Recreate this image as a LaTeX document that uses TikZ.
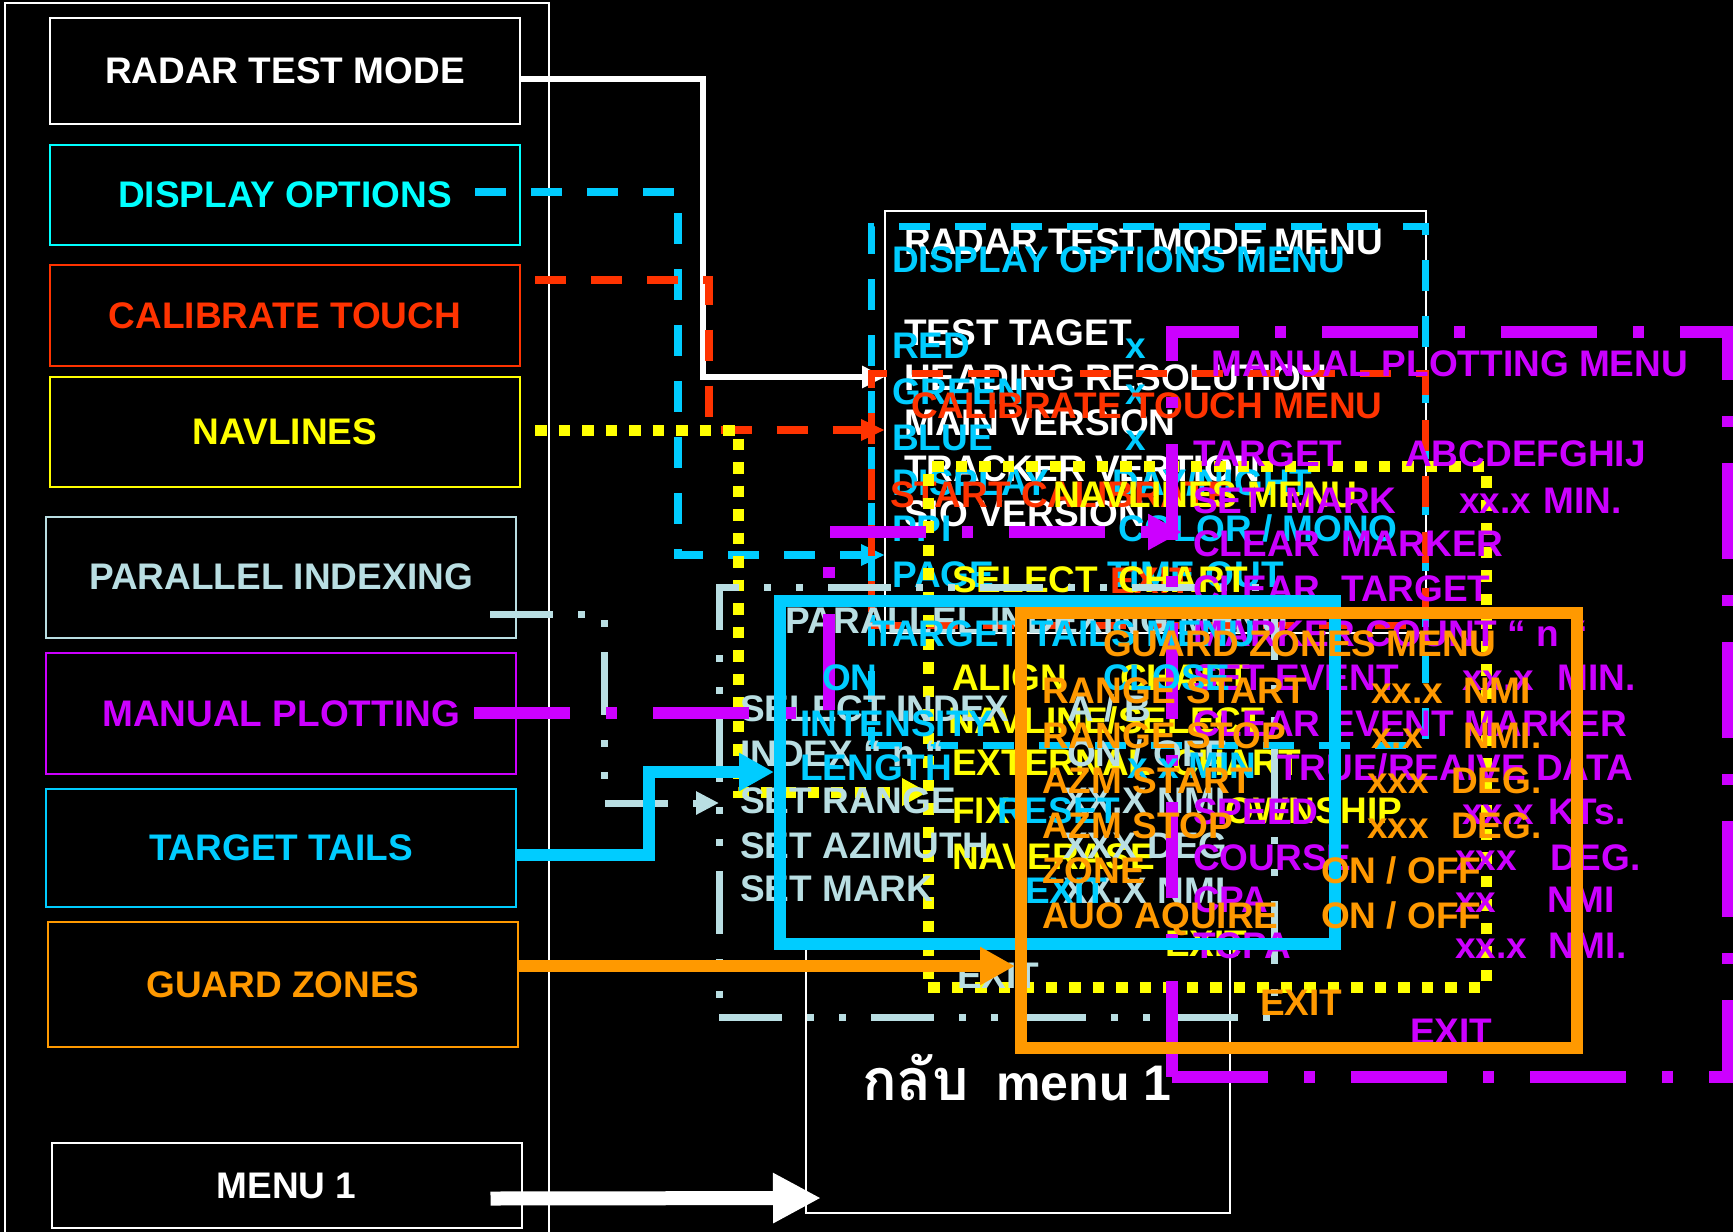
\documentclass[tikz,border=0pt]{standalone}
\usepackage{fontspec}
\setmainfont{Liberation Sans}
\newfontfamily\thaifont[Script=Thai,Scale=1.15]{Loma}
\usetikzlibrary{arrows.meta,calc}
\definecolor{rmCyan}{RGB}{0,255,255}
\definecolor{rmSky}{RGB}{0,204,255}
\definecolor{rmRed}{RGB}{255,51,0}
\definecolor{rmYellow}{RGB}{255,255,0}
\definecolor{rmPowder}{RGB}{185,222,226}
\definecolor{rmPurple}{RGB}{204,0,255}
\definecolor{rmOrange}{RGB}{255,153,0}
\newcommand\mnfont{\fontsize{37}{44}\selectfont\bfseries}
\tikzset{
  mnKey/.style={draw=#1, line width=2pt, text=#1, font=\mnfont,
                minimum width=470pt, inner sep=0pt},
  mnItem/.style={text=#1, font=\mnfont, anchor=west, inner sep=0pt,
                 text height=27pt, text depth=0pt},
  mnScreen/.style={draw=white, line width=2pt, inner sep=0pt, outer sep=0pt},
  bxDash/.style={draw=#1, line width=7pt, dash pattern=on 31pt off 25pt,
                 inner sep=0pt, outer sep=0pt},
  bxDot/.style={draw=rmYellow, line width=11pt, dash pattern=on 11.5pt off 12pt,
                inner sep=0pt, outer sep=0pt},
  bxDashDotDot/.style={draw=rmPowder, line width=7pt,
                dash pattern=on 63pt off 25pt on 7pt off 25pt on 7pt off 25pt,
                inner sep=0pt, outer sep=0pt},
  bxDashDot/.style={draw=rmPurple, line width=12pt,
                dash pattern=on 96pt off 36pt on 11pt off 36pt,
                inner sep=0pt, outer sep=0pt},
  bxBold/.style={draw=#1, line width=12pt, inner sep=0pt, outer sep=6pt},
  cnWhite/.style={draw=white, line width=6pt, -{Triangle[length=23pt,width=21pt]}},
  cnDash/.style={draw=#1, line width=8pt, dash pattern=on 31pt off 25pt,
                 -{Triangle[length=24pt,width=20pt]}},
  cnDot/.style={draw=rmYellow, line width=11pt, dash pattern=on 11.5pt off 12pt,
                -{Triangle[length=26pt,width=26pt]}},
  cnDashDotDot/.style={draw=rmPowder, line width=7pt,
                dash pattern=on 63pt off 25pt on 7pt off 25pt on 7pt off 25pt,
                -{Triangle[length=23pt,width=22pt]}},
  cnDashDot/.style={draw=rmPurple, line width=12pt,
                dash pattern=on 96pt off 36pt on 11pt off 36pt,
                -{Triangle[length=34pt,width=34pt]}},
  cnBold/.style={draw=#1, line width=12pt, -{Triangle[length=35pt,width=36pt]}}
}

\begin{document}
\begin{tikzpicture}[x=1pt,y=-1pt]
  \fill[black] (0,0) rectangle (1733,1232);
  \useasboundingbox (0,0) rectangle (1733,1232);
  \draw[white, line width=2pt] (5,1240) -- (5,3) -- (549,3) -- (549,1240);

  % menu keys
  \node[mnKey=white, minimum height=106pt] (radar) at (285,71) {RADAR TEST MODE};
  \node[mnKey=rmCyan, minimum height=100pt] (display) at (285,195) {DISPLAY OPTIONS};
  \node[mnKey=rmRed, minimum height=101pt] (calib) at (285,315.5) {CALIBRATE TOUCH};
  \node[mnKey=rmYellow, minimum height=110pt] (navl) at (285,432) {NAVLINES};
  \node[mnKey=rmPowder, minimum height=121pt] (parallel) at (281,577) {PARALLEL INDEXING};
  \node[mnKey=rmPurple, minimum height=121pt] (manual) at (281,713.5) {MANUAL PLOTTING};
  \node[mnKey=rmSky, minimum height=118pt] (tails) at (281,848) {TARGET TAILS};
  \node[mnKey=rmOrange, minimum height=125pt] (guard) at (283,984.5) {GUARD ZONES};
  \node[mnKey=white, minimum height=85pt] (menuOne) at (286.5,1185.5) {MENU 1};

  % radar test mode menu
  \node[mnScreen, minimum width=541pt, minimum height=422pt] (rtScreen) at (1155.5,422) {};
  \node[mnItem=white] (rtTitle) at (904,241) {RADAR TEST MODE MENU};
  \node[mnItem=white] (rtTest) at (904,332) {TEST TAGET};
  \node[mnItem=white] (rtHead) at (904,377) {HEADING RESOLUTION};
  \node[mnItem=white] (rtMain) at (904,422) {MAIN VERSION};
  \node[mnItem=white] (rtTrack) at (904,468) {TRACKER VERTION};
  \node[mnItem=white] (rtSio) at (904,513) {SIO VERSION};
  \coordinate (radarOut) at ($(radar.east)+(0,8)$);
  \draw[cnWhite] (radarOut) -| (703,377) -- (rtScreen.west |- 0,377);

  % back to menu 1
  \node[mnScreen, minimum width=424pt, minimum height=272pt] (backBox) at (1018,1077) {};
  \node[text=white, font=\fontsize{50}{60}\selectfont\bfseries, anchor=base west,
        inner sep=0pt] (backLbl) at (862,1100) {{\thaifont กลับ}\ \ menu 1};
  \coordinate (menuOut) at ($(menuOne.east)+(-32,13)$);
  \coordinate (backIn) at ($(backBox.west)+(15,121)$);
  \draw[draw=white, line width=14pt, -{Triangle[length=48pt,width=47pt]}] (menuOut) -- (backIn);

  % display options menu
  \node[bxDash=rmSky, minimum width=554pt, minimum height=519pt] (dispMenu) at (1148,485.5) {};
  \node[mnItem=rmSky] (dopTitle) at (892,259) {DISPLAY OPTIONS MENU};
  \node[mnItem=rmSky] (dopRed) at (892,345) {RED};
  \node[mnItem=rmSky] (dopRedVal) at (1125,345) {x};
  \node[mnItem=rmSky] (dopGreen) at (892,391) {GREEN};
  \node[mnItem=rmSky] (dopGreenVal) at (1125,391) {x};
  \node[mnItem=rmSky] (dopBlue) at (892,437) {BLUE};
  \node[mnItem=rmSky] (dopBlueVal) at (1125,437) {x};
  \node[mnItem=rmSky] (dopDisp) at (892,482) {DISPLAY};
  \node[mnItem=rmSky] (dopDispVal) at (1112,482) {DAY/NIGHT};
  \node[mnItem=rmSky] (dopPpi) at (892,528) {PPI};
  \node[mnItem=rmSky] (dopPpiVal) at (1118,528) {COLOR / MONO};
  \node[mnItem=rmSky] (dopPage) at (892,574) {PAGE};
  \node[mnItem=rmSky] (dopPageVal) at (1107,574) {TIME OUT};
  \coordinate (dispOut) at ($(display.east)+(-46,-3)$);
  \draw[cnDash=rmSky] (dispOut) -| (678,555) -- (rtScreen.west |- 0,555);

  % calibrate touch menu
  \node[bxDash=rmRed, minimum width=554pt, minimum height=252pt] (calMenu) at (1148,499) {};
  \node[mnItem=rmRed] (calTitle) at (911,405) {CALIBRATE TOUCH MENU};
  \node[mnItem=rmRed] (calStart) at (890,494) {START CALIBRATE};
  \node[mnItem=rmRed] (calExit) at (1110,580) {EXIT};
  \coordinate (calOut) at ($(calib.east)+(14,-36)$);
  \draw[cnDash=rmRed] (calOut) -| (709,430) -- (rtScreen.west |- 0,430);

  % navlines menu
  \node[bxDot, minimum width=558pt, minimum height=521pt] (navMenu) at (1207,726.5) {};
  \node[mnItem=rmYellow] (navTitle) at (1053,494) {NAVLINES MENU};
  \node[mnItem=rmYellow] (navChart) at (952,579) {\makebox[166pt][l]{SELECT}CHART};
  \node[mnItem=rmYellow] (navAlign) at (952,677) {\makebox[168pt][l]{ALIGN}CHART};
  \node[mnItem=rmYellow] (navSelect) at (948,720) {NAVLINE/SELECT};
  \node[mnItem=rmYellow] (navExtern) at (952,762) {EXTERNAL\ \ CHART};
  \node[mnItem=rmYellow] (navFix) at (952,810) {FIX};
  \node[mnItem=rmYellow] (navFixVal) at (1225,810) {OWNSHIP};
  \node[mnItem=rmYellow] (navErase) at (952,856) {NAVERASE};
  \node[mnItem=rmYellow] (navExit) at (1165,943) {EXIT};
  \coordinate (navOut) at ($(navl.east)+(14,-2)$);
  \draw[cnDot] (navOut) -| (738,792) -- (navMenu.west |- 0,792);

  % parallel indexing menu
  \node[bxDashDotDot, minimum width=555pt, minimum height=430pt] (parMenu) at (996.5,802) {};
  \node[mnItem=rmPowder] (parTitle) at (785,620) {PARALLEL INDEXING MENU};
  \node[mnItem=rmPowder] (parSel) at (740,708) {SELECT INDEX};
  \node[mnItem=rmPowder] (parSelVal) at (1067,708) {A / B};
  \node[mnItem=rmPowder] (parIdx) at (740,753) {INDEX “ n “};
  \node[mnItem=rmPowder] (parIdxVal) at (1067,753) {ON / OFF};
  \node[mnItem=rmPowder] (parRng) at (740,800) {SET RANGE};
  \node[mnItem=rmPowder] (parRngVal) at (1063,800) {XX.X NMI};
  \node[mnItem=rmPowder] (parAzm) at (740,845) {SET AZIMUTH};
  \node[mnItem=rmPowder] (parAzmVal) at (1063,845) {XXX DEG};
  \node[mnItem=rmPowder] (parMark) at (740,888) {SET MARK};
  \node[mnItem=rmPowder] (parMarkVal) at (1063,890) {XX.X NMI};
  \node[mnItem=rmPowder] (parExit) at (957,975) {EXIT};
  \coordinate (parOut) at ($(parallel.east)+(-27,37)$);
  \draw[cnDashDotDot] (parOut) -| (604,803) -- (parMenu.west |- 0,803);

  % manual plotting menu
  \node[bxDashDot, minimum width=556pt, minimum height=745pt] (manMenu) at (1450,704.5) {};
  \node[mnItem=rmPurple] (manTitle) at (1211,363) {MANUAL PLOTTING MENU};
  \node[mnItem=rmPurple] (manTgt) at (1193,453) {TARGET};
  \node[mnItem=rmPurple] (manTgtVal) at (1405,453) {ABCDEFGHIJ};
  \node[mnItem=rmPurple] (manSet) at (1193,500) {SET\ \ MARK};
  \node[mnItem=rmPurple] (manSetVal) at (1459,500) {xx.x};
  \node[mnItem=rmPurple] (manSetUnit) at (1543,500) {MIN.};
  \node[mnItem=rmPurple] (manClrM) at (1193,543) {CLEAR\ \ MARKER};
  \node[mnItem=rmPurple] (manClrT) at (1193,588) {CLEAR\ \ TARGET};
  \node[mnItem=rmPurple] (manCount) at (1193,633) {MARKER COUNT “ n “};
  \node[mnItem=rmPurple] (manEvt) at (1193,677) {SET EVENT};
  \node[mnItem=rmPurple] (manEvtVal) at (1462,677) {xx.x};
  \node[mnItem=rmPurple] (manEvtUnit) at (1557,677) {MIN.};
  \node[mnItem=rmPurple] (manClrE) at (1193,723) {CLEAR EVENT MARKER};
  \node[mnItem=rmPurple] (manTrue) at (1277,767) {TRUE/REAIVE DATA};
  \node[mnItem=rmPurple] (manSpd) at (1193,811) {SPEED};
  \node[mnItem=rmPurple] (manSpdVal) at (1462,811) {xx.x};
  \node[mnItem=rmPurple] (manSpdUnit) at (1548,811) {KTs.};
  \node[mnItem=rmPurple] (manCrs) at (1193,857) {COURSE};
  \node[mnItem=rmPurple] (manCrsVal) at (1455,857) {xxx};
  \node[mnItem=rmPurple] (manCrsUnit) at (1550,857) {DEG.};
  \node[mnItem=rmPurple] (manCpa) at (1193,899) {CPA};
  \node[mnItem=rmPurple] (manCpaVal) at (1455,899) {xx};
  \node[mnItem=rmPurple] (manCpaUnit) at (1547,899) {NMI};
  \node[mnItem=rmPurple] (manTcpa) at (1193,945) {TCPA};
  \node[mnItem=rmPurple] (manTcpaVal) at (1455,945) {xx.x};
  \node[mnItem=rmPurple] (manTcpaUnit) at (1548,945) {NMI.};
  \node[mnItem=rmPurple] (manExit) at (1410,1031) {EXIT};
  \coordinate (manOut) at ($(manual.east)+(-43,-0.5)$);
  \draw[cnDashDot] (manOut) -| (829,532) -- ([xshift=10pt]manMenu.west |- 0,532);

  % target tails menu
  \node[bxBold=rmSky, minimum width=555pt, minimum height=343pt] (ttMenu) at (1057.5,772.5) {};
  \node[mnItem=rmSky] (ttTitle) at (872,633) {TARGET TAILS MENU};
  \node[mnItem=rmSky] (ttOn) at (822,677) {ON};
  \node[mnItem=rmSky] (ttOnVal) at (1103,677) {CLOSE};
  \node[mnItem=rmSky] (ttInt) at (800,723) {INTENSITY};
  \node[mnItem=rmSky] (ttLen) at (800,767) {LENGTH};
  \node[mnItem=rmSky] (ttLenVal) at (1127,765) {x x MIN};
  \node[mnItem=rmSky] (ttReset) at (997,810) {RESET};
  \node[mnItem=rmSky] (ttExit) at (1025,890) {EXIT};
  \draw[cnBold=rmSky] (tails.east |- 0,855) -| (649,772) -- (ttMenu.west |- 0,772);

  % guard zones menu
  \node[bxBold=rmOrange, minimum width=556pt, minimum height=435pt] (gzMenu) at (1299,830.5) {};
  \node[mnItem=rmOrange] (gzTitle) at (1103,643) {GUARD ZONES MENU};
  \node[mnItem=rmOrange] (gzRs) at (1042,690) {RANGE START};
  \node[mnItem=rmOrange] (gzRsVal) at (1371,690) {xx.x};
  \node[mnItem=rmOrange] (gzRsUnit) at (1463,690) {NMI};
  \node[mnItem=rmOrange] (gzRe) at (1042,735) {RANGE STOP};
  \node[mnItem=rmOrange] (gzReVal) at (1371,735) {x.x};
  \node[mnItem=rmOrange] (gzReUnit) at (1463,735) {NMI.};
  \node[mnItem=rmOrange] (gzAs) at (1042,780) {AZM START};
  \node[mnItem=rmOrange] (gzAsVal) at (1367,780) {xxx};
  \node[mnItem=rmOrange] (gzAsUnit) at (1451,780) {DEG.};
  \node[mnItem=rmOrange] (gzAe) at (1042,825) {AZM STOP};
  \node[mnItem=rmOrange] (gzAeVal) at (1367,825) {xxx};
  \node[mnItem=rmOrange] (gzAeUnit) at (1451,825) {DEG.};
  \node[mnItem=rmOrange] (gzZone) at (1042,870) {ZONE};
  \node[mnItem=rmOrange] (gzZoneVal) at (1321,870) {ON / OFF};
  \node[mnItem=rmOrange] (gzAuto) at (1042,915) {AUO AQUIRE};
  \node[mnItem=rmOrange] (gzAutoVal) at (1321,915) {ON / OFF};
  \node[mnItem=rmOrange] (gzExit) at (1260,1002) {EXIT};
  \draw[cnBold=rmOrange] (guard.east |- 0,966) -- (gzMenu.west |- 0,966);
\end{tikzpicture}
\end{document}
